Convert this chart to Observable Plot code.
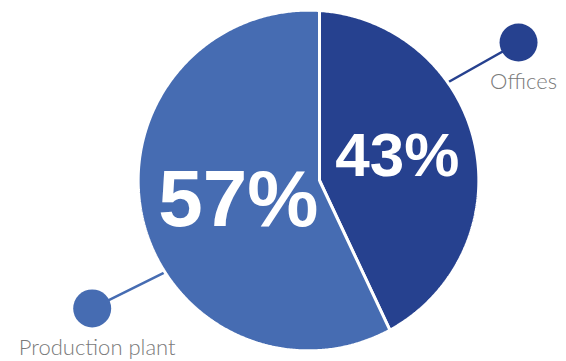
<!DOCTYPE html>
<html><head><meta charset="utf-8">
<script src="https://cdn.jsdelivr.net/npm/d3@7"></script>
<script src="https://cdn.jsdelivr.net/npm/@observablehq/plot@0.6"></script>
<style>body{margin:0;background:#fff} svg{display:block}</style>
</head><body><div id="chart"></div>
<script>
const categories = ["Offices", "Production plant"];
const shares = [0.43, 0.57];
const colors = ["#26418f", "#466cb2"];

// layout (pie units: 1 = pie radius)
const W = 566, H = 361, R = 169, cx = 308, cy = 180;
const vertexOffset = 11 / R;
const outerRadius = 1.008;
const labelRadius = [0.55, 0.45];
const labelShiftPx = [[-2, -4], [4, 3]];
const labelFontSize = [62, 80];
const leaderEdgeAngle = [54.5, 237];
const leaderDotAngle = [56.7, 239.4];
const leaderDotRadius = 1.487;

const rad = d => d * Math.PI / 180;
const cum = d3.cumsum(shares);
const slices = categories.map((c, i) => ({
  category: c, share: shares[i], i,
  a0: (i ? cum[i - 1] : 0) * 2 * Math.PI,
  a1: cum[i] * 2 * Math.PI
}));

function hit(theta) {
  const s = Math.sin(theta), c = Math.cos(theta), v = vertexOffset;
  const t = -v * s + Math.sqrt(v * v * s * s - v * v + outerRadius * outerRadius);
  return Math.atan2(v + t * s, t * c);
}

const pts = [];
for (const s of slices) {
  let pa = hit(s.a0), pb = hit(s.a1);
  if (pa < 0) pa += 2 * Math.PI;
  while (pb <= pa) pb += 2 * Math.PI;
  pts.push({category: s.category, x: vertexOffset, y: 0});
  const n = Math.ceil((pb - pa) / rad(0.5));
  for (let k = 0; k <= n; k++) {
    const p = pa + (pb - pa) * k / n;
    pts.push({category: s.category, x: outerRadius * Math.sin(p), y: outerRadius * Math.cos(p)});
  }
  pts.push({category: s.category, x: vertexOffset, y: 0});
}

const pctLabels = slices.map(s => {
  const m = (s.a0 + s.a1) / 2;
  const [sx, sy] = labelShiftPx[s.i];
  return {share: s.share, size: labelFontSize[s.i],
    x: labelRadius[s.i] * Math.sin(m) + sx / R, y: labelRadius[s.i] * Math.cos(m) - sy / R};
});

const leaders = [];
const dots = [];
slices.forEach(s => {
  const ea = rad(leaderEdgeAngle[s.i]), da = rad(leaderDotAngle[s.i]);
  const dot = {category: s.category, x: leaderDotRadius * Math.sin(da), y: leaderDotRadius * Math.cos(da)};
  leaders.push({category: s.category, x: 0.95 * Math.sin(ea), y: 0.95 * Math.cos(ea)}, dot);
  dots.push(dot);
});

const fmt = d3.format(".0%");

const chart = Plot.plot({
  width: W, height: H, margin: 0,
  style: {background: "#fff"},
  x: {domain: [-cx / R, (W - cx) / R], axis: null},
  y: {domain: [(cy - H) / R, cy / R], axis: null},
  color: {domain: categories, range: colors},
  marks: [
    Plot.line(leaders, {x: "x", y: "y", z: "category", stroke: "category", strokeWidth: 2.5}),
    Plot.dot(dots, {x: "x", y: "y", r: 19, fill: "category"}),
    Plot.line(pts, {x: "x", y: "y", z: "category", fill: "category", stroke: "white", strokeWidth: 3, strokeLinejoin: "miter"}),
    Plot.text(pctLabels, {x: "x", y: "y", text: d => fmt(d.share), fill: "white", fontSize: d => d.size,
      fontWeight: "bold", fontFamily: "Liberation Sans, Arial, sans-serif"}),
    Plot.text(dots, {x: "x", y: "y", text: "category", dx: 5, dy: 39.5, fill: "#7a7a7a", fontSize: 22,
      fontWeight: 300, fontFamily: "Lato, 'Open Sans', sans-serif"})
  ]
});
document.getElementById("chart").append(chart);
</script>
</body></html>
